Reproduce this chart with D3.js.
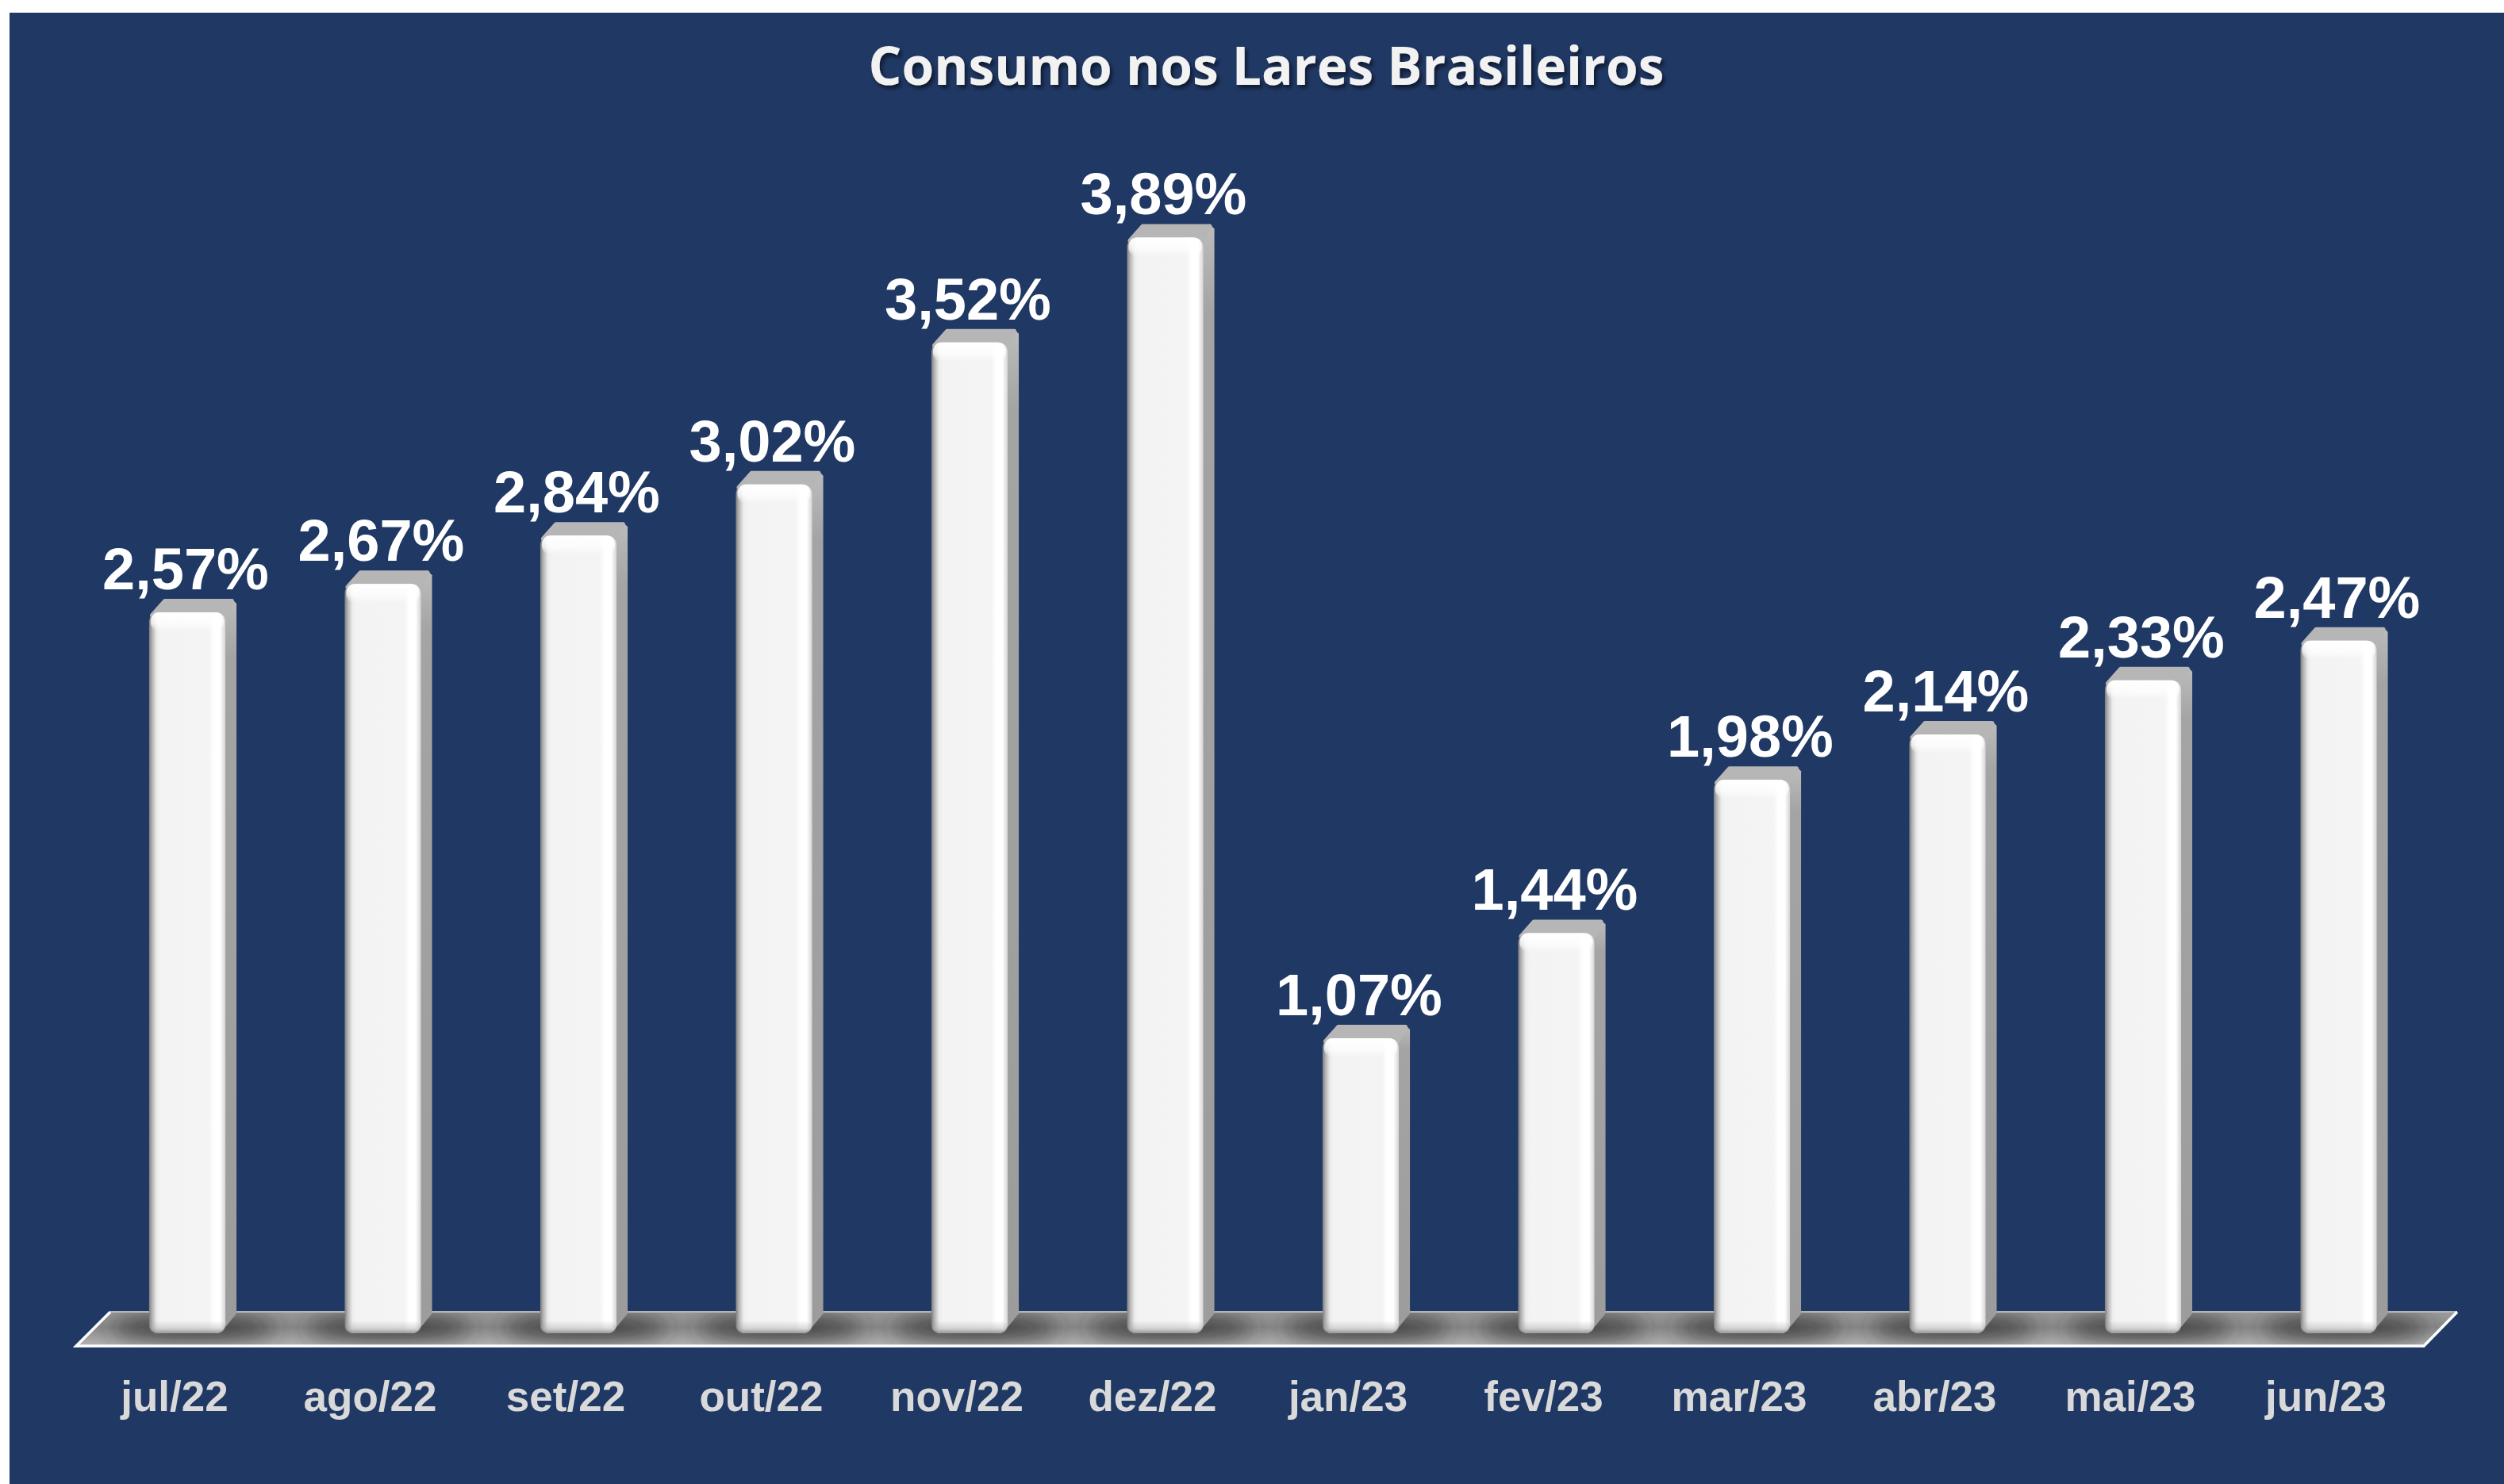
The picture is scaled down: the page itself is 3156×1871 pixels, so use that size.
<!DOCTYPE html>
<html>
<head>
<meta charset="utf-8">
<script src="https://cdn.jsdelivr.net/npm/d3@7"></script>
<style>
  html, body { margin: 0; padding: 0; background: #ffffff; }
  svg { display: block; }
</style>
</head>
<body>
<svg id="chart" width="3156" height="1871"></svg>
<script>
// dados
const months = ["jul/22", "ago/22", "set/22", "out/22", "nov/22", "dez/22",
                "jan/23", "fev/23", "mar/23", "abr/23", "mai/23", "jun/23"];
const consumo = [2.57, 2.67, 2.84, 3.02, 3.52, 3.89, 1.07, 1.44, 1.98, 2.14, 2.33, 2.47];
const titulo = "Consumo nos Lares Brasileiros";

const svg = d3.select("#chart");
const defs = svg.append("defs");

const x = d3.scaleBand()
    .domain(months)
    .range([112.75, 3070.75])
    .paddingInner(0.61)
    .paddingOuter(0.305);

const y = d3.scaleLinear()
    .domain([0, 4])
    .range([1692, 260]);

const fmt = v => d3.format(".2f")(v).replace(".", ",") + "%";

const base = 1681;   // pé da face frontal
const dx = 14, dy = 17; // profundidade 3D

// gradientes
function gradient(id, stops, vertical) {
    let g = defs.append("linearGradient")
        .attr("id", id)
        .attr("x1", 0).attr("y1", 0)
        .attr("x2", vertical ? 0 : 1).attr("y2", vertical ? 1 : 0);
    stops.forEach(s => g.append("stop")
        .attr("offset", s[0])
        .attr("stop-color", s[1])
        .attr("stop-opacity", s[2] === undefined ? 1 : s[2]));
}

gradient("front", [
    [0, "#7e7e7e"], [0.04, "#b4b4b4"], [0.10, "#ececec"], [0.15, "#f3f3f3"],
    [0.78, "#f4f4f4"], [0.85, "#ffffff"], [0.93, "#ffffff"], [1, "#d4d4d4"]
]);
gradient("side", [[0, "#bcbcbc"], [0.08, "#a4a4a4"], [1, "#9c9c9c"]], true);
gradient("topBevel", [[0, "#ffffff", 1], [0.6, "#ffffff", 0.7], [1, "#ffffff", 0]], true);
gradient("bottomShade", [[0, "#9a9a9a", 0], [0.6, "#9a9a9a", 0.35], [1, "#8a8a8a", 0.9]], true);
gradient("floor", [[0, "#9c9c9c"], [0.45, "#8a8a8a"], [1, "#b4b4b4"]], true);

defs.append("filter").attr("id", "blurShadow")
    .attr("x", "-50%").attr("y", "-200%").attr("width", "200%").attr("height", "500%")
    .append("feGaussianBlur").attr("stdDeviation", 14);

let ts = defs.append("filter").attr("id", "titleShadow")
    .attr("x", "-10%").attr("y", "-30%").attr("width", "120%").attr("height", "160%");
ts.append("feDropShadow")
    .attr("dx", 3).attr("dy", 4).attr("stdDeviation", 2.5)
    .attr("flood-color", "#000000").attr("flood-opacity", 0.55);

const floorPts = [[139, 1654], [3097, 1654], [3055, 1697], [96, 1697]];
defs.append("clipPath").attr("id", "floorClip")
    .append("polygon").attr("points", floorPts.join(" "));

// fundo
svg.append("rect")
    .attr("x", 12).attr("y", 16)
    .attr("width", 3156 - 12).attr("height", 1871 - 16)
    .attr("fill", "#203864");

// título
svg.append("text")
    .attr("x", 1596).attr("y", 107)
    .attr("text-anchor", "middle")
    .attr("font-family", "'Open Sans', 'Noto Sans', sans-serif")
    .attr("font-weight", 700)
    .attr("font-size", 66)
    .attr("fill", "#f2f2f2")
    .attr("textLength", 1003)
    .attr("lengthAdjust", "spacingAndGlyphs")
    .attr("filter", "url(#titleShadow)")
    .text(titulo);

// piso
const floor = svg.append("g");
floor.append("polygon")
    .attr("points", floorPts.join(" "))
    .attr("fill", "url(#floor)");

floor.append("g")
    .attr("clip-path", "url(#floorClip)")
    .selectAll("ellipse")
    .data(months)
    .join("ellipse")
    .attr("cx", d => x(d) + x.bandwidth() / 2 + 8)
    .attr("cy", 1674)
    .attr("rx", 105)
    .attr("ry", 13)
    .attr("fill", "#2e2e2e")
    .attr("filter", "url(#blurShadow)");

floor.append("line")
    .attr("x1", floorPts[0][0]).attr("y1", floorPts[0][1])
    .attr("x2", floorPts[1][0]).attr("y2", floorPts[1][1])
    .attr("stroke", "#b4b4b4").attr("stroke-width", 2);
floor.append("polyline")
    .attr("points", [floorPts[1], floorPts[2], floorPts[3], floorPts[0]].join(" "))
    .attr("fill", "none")
    .attr("stroke", "#ffffff").attr("stroke-width", 3.5);

// barras
const bars = svg.append("g")
    .selectAll("g")
    .data(months.map((m, i) => ({ m: m, v: consumo[i] })))
    .join("g");

const w = x.bandwidth();

bars.append("path")
    .attr("d", d => {
        let x0 = x(d.m), t = y(d.v);
        return `M${x0 + w - 4},${t} L${x0 + w + dx - 6},${t - dy} L${x0 + w + dx},${t - dy + 6}
                L${x0 + w + dx},${base - dy - 8} L${x0 + w - 4},${base - 3} Z`;
    })
    .attr("fill", "url(#side)");

bars.append("path")
    .attr("d", d => {
        let x0 = x(d.m), t = y(d.v);
        return `M${x0 + 4},${t + 4} L${x0 + dx + 6},${t - dy + 3} L${x0 + w + dx - 6},${t - dy + 3}
                L${x0 + w - 2},${t + 4} Z`;
    })
    .attr("fill", "#b6b6b6")
    .attr("stroke", "#b6b6b6")
    .attr("stroke-width", 6)
    .attr("stroke-linejoin", "round");

bars.append("rect")
    .attr("x", d => x(d.m))
    .attr("y", d => y(d.v))
    .attr("width", w)
    .attr("height", d => base - y(d.v))
    .attr("rx", 12)
    .attr("fill", "url(#front)");

bars.append("rect")
    .attr("x", d => x(d.m) + 2)
    .attr("y", d => y(d.v))
    .attr("width", w - 4)
    .attr("height", 24)
    .attr("rx", 11)
    .attr("fill", "url(#topBevel)");

bars.append("rect")
    .attr("x", d => x(d.m))
    .attr("y", base - 16)
    .attr("width", w)
    .attr("height", 16)
    .attr("rx", 12)
    .attr("fill", "url(#bottomShade)");

// rótulos de valor
svg.append("g")
    .selectAll("text")
    .data(months.map((m, i) => ({ m: m, v: consumo[i] })))
    .join("text")
    .attr("x", d => x(d.m) + w / 2 - 2)
    .attr("y", d => y(d.v) - 29)
    .attr("text-anchor", "middle")
    .attr("font-family", "'Liberation Sans', Arial, sans-serif")
    .attr("font-weight", 700)
    .attr("font-size", 74)
    .attr("fill", "#ffffff")
    .text(d => fmt(d.v));

// eixo de categorias
const axis = svg.append("g")
    .attr("transform", "translate(-16,1779)")
    .call(d3.axisBottom(x).tickSize(0).tickPadding(0));
axis.select(".domain").remove();
axis.selectAll("text")
    .attr("dy", 0)
    .attr("y", 0)
    .attr("font-family", "'Liberation Sans', Arial, sans-serif")
    .attr("font-weight", 700)
    .attr("font-size", 53)
    .attr("fill", "#d9d9d9");
</script>
</body>
</html>
